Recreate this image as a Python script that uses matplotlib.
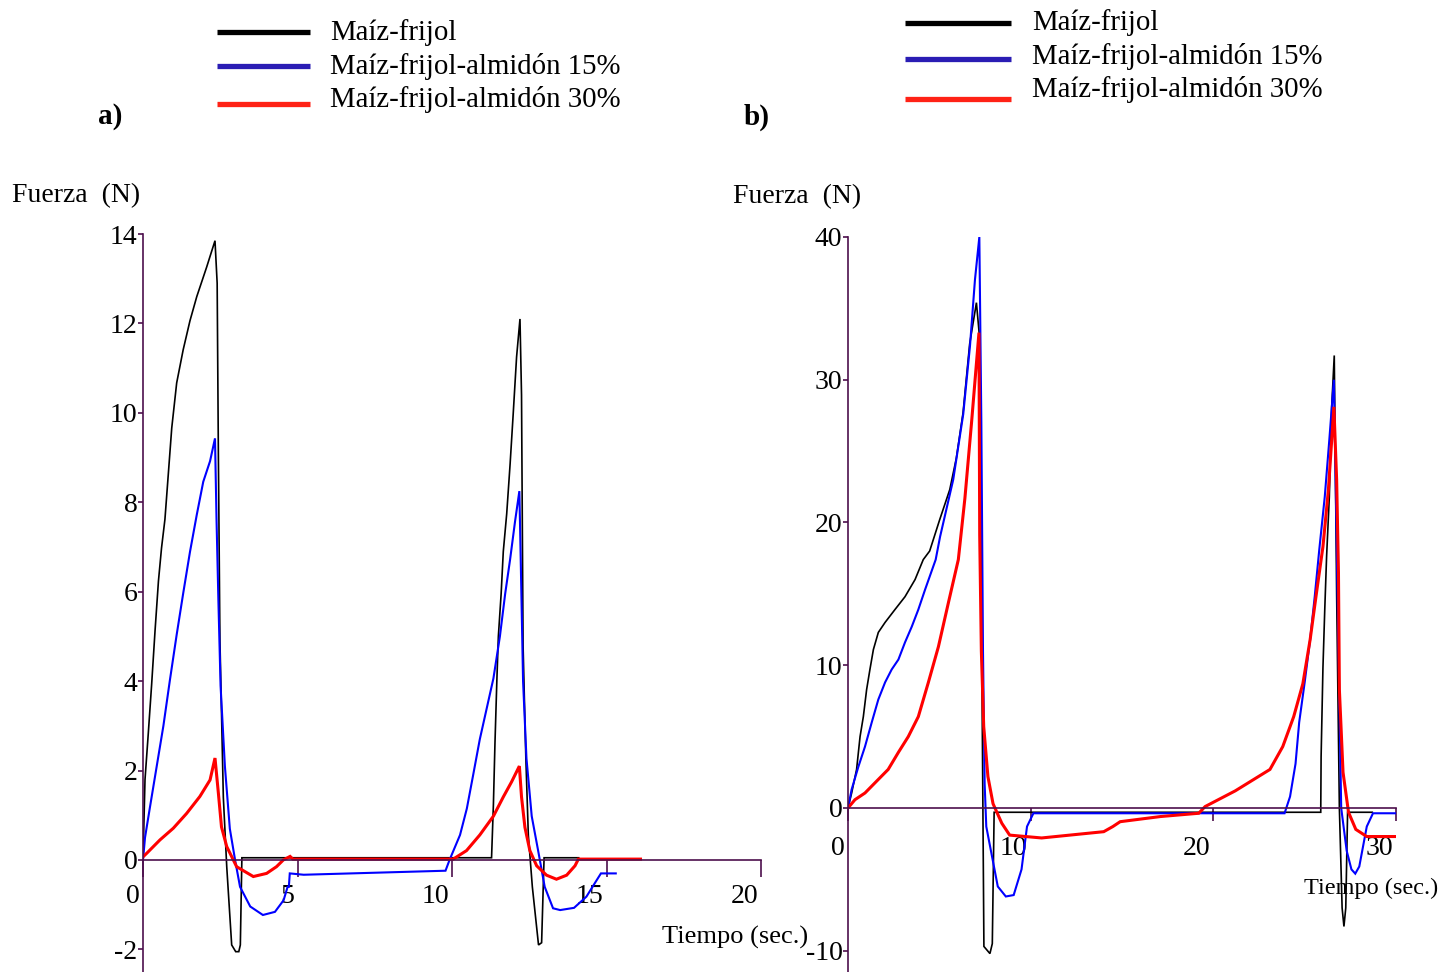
import matplotlib
matplotlib.use("Agg")
import matplotlib.pyplot as plt
from matplotlib.lines import Line2D
from matplotlib.transforms import ScaledTranslation

plt.rcParams["font.family"] = ["Liberation Serif", "DejaVu Serif"]
plt.rcParams["axes.unicode_minus"] = False

# ---- labels ---------------------------------------------------------------
SERIES = ["Maíz-frijol", "Maíz-frijol-almidón 15%", "Maíz-frijol-almidón 30%"]
LINE_COLORS = ["#000000", "#0000ff", "#ff0000"]
LEGEND_COLORS = ["#000000", "#2a1db4", "#ff2216"]

# ---- panel a: force (N) vs time (s) ---------------------------------------
a_black_t = [0, 0.065, 0.17, 0.28, 0.39, 0.5, 0.6, 0.71, 0.93, 1.09,
             1.3, 1.52, 1.74, 2.06, 2.33, 2.4, 2.44, 2.49, 2.6, 2.71,
             2.87, 3.0, 3.1, 3.15, 3.2, 3.3, 11.28, 11.34, 11.39, 11.45,
             11.5, 11.59, 11.66, 11.77, 11.88, 11.98, 12.09, 12.2, 12.25, 12.3,
             12.39, 12.47, 12.6, 12.8, 12.9, 12.98, 14.1]
a_black_f = [0, 1.8, 2.82, 3.93, 5.13, 6.24, 6.98, 7.62, 9.66, 10.67,
             11.41, 12.06, 12.6, 13.26, 13.85, 12.9, 9.0, 4.9, 1.4, -0.15,
             -1.9, -2.05, -2.05, -1.9, 0.05, 0.05, 0.05, 1.24, 2.6, 3.98,
             5.0, 5.95, 6.9, 7.74, 8.85, 9.97, 11.25, 12.1, 10.4, 4.8,
             2.27, 0.56, -0.6, -1.9, -1.85, 0.05, 0.05]

a_blue_t = [0, 0.065, 0.22, 0.44, 0.66, 0.87, 1.09, 1.3, 1.52, 1.74,
            1.95, 2.17, 2.33, 2.38, 2.44, 2.51, 2.65, 2.81, 2.98, 3.14,
            3.47, 3.88, 4.27, 4.55, 4.68, 4.72, 4.75, 5.2, 9.79, 9.92,
            10.26, 10.48, 10.69, 10.9, 11.12, 11.34, 11.55, 11.72, 11.88, 12.04,
            12.18, 12.23, 12.3, 12.41, 12.58, 12.79, 13.0, 13.27, 13.5, 13.95,
            14.35, 14.62, 14.82, 15.3]
a_blue_f = [0, 0.5, 1.16, 2.08, 3.0, 4.02, 5.04, 5.96, 6.89, 7.72,
            8.46, 8.92, 9.43, 7.6, 5.8, 3.9, 2.1, 0.7, 0.0, -0.6,
            -1.04, -1.23, -1.16, -0.9, -0.6, -0.6, -0.3, -0.33, -0.24, 0,
            0.56, 1.15, 1.92, 2.7, 3.38, 4.06, 5.0, 5.95, 6.72, 7.57,
            8.25, 6.5, 4.0, 2.27, 0.98, 0.2, -0.6, -1.08, -1.12, -1.07,
            -0.82, -0.52, -0.3, -0.3]

a_red_t = [0, 0.12, 0.55, 0.98, 1.41, 1.84, 2.17, 2.33, 2.44, 2.54,
           2.71, 3.03, 3.57, 4.0, 4.32, 4.54, 4.76, 4.85, 10.04, 10.47,
           10.9, 11.34, 11.66, 11.93, 12.18, 12.25, 12.36, 12.52, 12.74, 13.06,
           13.38, 13.71, 13.98, 14.09, 16.1]
a_red_f = [0.07, 0.15, 0.45, 0.71, 1.04, 1.42, 1.79, 2.28, 1.49, 0.74,
           0.3, -0.15, -0.37, -0.3, -0.15, 0, 0.08, 0.02, 0.02, 0.21,
           0.56, 0.98, 1.41, 1.75, 2.1, 1.41, 0.73, 0.21, -0.13, -0.34,
           -0.43, -0.34, -0.13, 0.02, 0.02]

# ---- panel b: force (N) vs time (s) ---------------------------------------
b_black_t = [0, 0.2, 0.47, 0.66, 0.84, 1.02, 1.2, 1.39, 1.66, 2.03,
             2.57, 3.12, 3.67, 4.12, 4.47, 5.02, 5.57, 5.93, 6.3, 6.66,
             7.03, 7.2, 7.3, 7.44, 7.77, 7.9, 8.0, 25.88, 25.9, 26.0,
             26.1, 26.2, 26.35, 26.48, 26.62, 26.75, 26.9, 27.05, 27.15, 27.25,
             27.35, 28.7]
b_black_f = [0, 1.05, 2.7, 5.0, 6.4, 8.3, 9.7, 11.1, 12.3, 13.0,
             13.9, 14.8, 16.0, 17.4, 18.0, 20.2, 22.3, 24.5, 27.7, 32.5,
             35.4, 33.0, 15.0, -9.7, -10.2, -9.5, -0.3, -0.3, 3.6, 9.8,
             13.9, 17.6, 21.8, 28.1, 31.7, 15.0, 0.0, -7.0, -8.3, -7.0,
             -0.3, -0.3]

b_blue_t = [0, 0.2, 0.57, 0.93, 1.3, 1.66, 2.03, 2.39, 2.76, 3.12,
            3.49, 3.85, 4.22, 4.8, 5.04, 5.76, 6.31, 6.68, 6.95, 7.19,
            7.3, 7.39, 7.48, 7.57, 8.2, 8.64, 9.07, 9.5, 9.8, 10.15,
            23.9, 24.2, 24.5, 24.7, 25.0, 25.3, 25.55, 25.8, 26.1, 26.35,
            26.6, 26.8, 27.0, 27.3, 27.56, 27.77, 27.99, 28.4, 28.74, 30.0]
b_blue_f = [0, 1.3, 2.9, 4.3, 6.0, 7.6, 8.8, 9.7, 10.4, 11.6,
            12.7, 13.9, 15.3, 17.4, 19.0, 23.0, 27.6, 32.4, 37.0, 40.0,
            27.0, 11.0, 1.7, -1.3, -5.5, -6.2, -6.1, -4.3, -1.3, -0.37,
            -0.37, 0.8, 3.1, 6.0, 8.8, 11.8, 14.8, 18.1, 21.8, 25.8,
            30.0, 15.0, 0.0, -3.0, -4.3, -4.6, -4.1, -1.3, -0.37, -0.37]

b_red_t = [0, 0.38, 0.93, 1.66, 2.2, 2.76, 3.3, 3.85, 4.4, 4.95,
           5.5, 6.04, 6.4, 6.77, 7.17, 7.21, 7.3, 7.43, 7.66, 7.94,
           8.42, 8.85, 10.6, 14.0, 14.5, 14.9, 17.1, 19.2, 19.55, 21.2,
           23.1, 23.8, 24.4, 24.9, 25.3, 25.65, 26.0, 26.3, 26.6, 26.75,
           26.85, 26.9, 27.1, 27.4, 27.8, 28.4, 30.0]
b_red_f = [0, 0.58, 1.05, 2.0, 2.7, 3.9, 5.0, 6.4, 8.8, 11.3,
           14.4, 17.4, 21.7, 27.1, 33.3, 19.1, 11.0, 5.7, 2.2, 0.3,
           -1.07, -1.9, -2.1, -1.66, -1.3, -0.96, -0.6, -0.37, 0.1, 1.2,
           2.7, 4.3, 6.4, 8.7, 11.8, 15.1, 18.3, 22.3, 28.1, 23.0,
           16.5, 8.3, 2.5, -0.3, -1.5, -2.0, -2.0]

a_curves = [(a_black_t, a_black_f), (a_blue_t, a_blue_f), (a_red_t, a_red_f)]
b_curves = [(b_black_t, b_black_f), (b_blue_t, b_blue_f), (b_red_t, b_red_f)]
LINE_WIDTHS = [1.2, 1.5, 2.2]

W, H = 1443, 972
AXIS_COLOR = "#4d0f4d"

fig = plt.figure(figsize=(W / 100, H / 100), dpi=100)


def px_axes(left, top, right, bottom):
    return fig.add_axes([left / W, 1 - bottom / H, (right - left) / W,
                         (bottom - top) / H])


def px_text(x, y, s, **kw):
    fig.text(x / W, 1 - y / H, s, **kw)


def style_axes(ax, xticks, yticks, xlen, xpad):
    ax.spines["top"].set_visible(False)
    ax.spines["right"].set_visible(False)
    ax.spines["bottom"].set_position(("data", 0))
    for side in ("left", "bottom"):
        ax.spines[side].set_color(AXIS_COLOR)
        ax.spines[side].set_linewidth(1.2)
    ax.set_xticks(xticks)
    ax.set_yticks(yticks)
    ax.tick_params(axis="x", direction="out", length=xlen, width=1.2,
                   color=AXIS_COLOR, pad=xpad, labelsize=20)
    ax.tick_params(axis="y", direction="out", length=3.5, width=1.2,
                   color=AXIS_COLOR, pad=0.5, labelsize=20)
    shift = ScaledTranslation(-3 / 100, 0, fig.dpi_scale_trans)
    for lab in ax.get_xticklabels():
        lab.set_horizontalalignment("right")
        lab.set_transform(lab.get_transform() + shift)
    ax.patch.set_alpha(0)


# panel a
ax_a = px_axes(143, 234, 761, 972)
for (t, f), c, lw in zip(a_curves, LINE_COLORS, LINE_WIDTHS):
    ax_a.plot(t, f, color=c, lw=lw, solid_joinstyle="miter")
ax_a.set_xlim(0, 20)
ax_a.set_ylim(-2.505, 14)
style_axes(ax_a, [0, 5, 10, 15, 20], list(range(-2, 15, 2)), 12, 5.5)

# panel b
ax_b = px_axes(848, 237, 1396, 972)
for (t, f), c, lw in zip(b_curves, LINE_COLORS, LINE_WIDTHS):
    ax_b.plot(t, f, color=c, lw=lw, solid_joinstyle="miter")
ax_b.set_xlim(0, 30)
ax_b.set_ylim(-11.49, 40)
style_axes(ax_b, [0, 10, 20, 30], [-10, 0, 10, 20, 30, 40], 9.5, 11)

# axis titles
px_text(12, 196, "Fuerza  (N)", fontsize=20, va="center", ha="left")
px_text(733, 197, "Fuerza  (N)", fontsize=20, va="center", ha="left")
px_text(662, 937, "Tiempo (sec.)", fontsize=19, va="center", ha="left")
px_text(1438, 888, "Tiempo (sec.)", fontsize=17.5, va="center", ha="right")

# panel tags
px_text(98, 117, "a)", fontsize=21, fontweight="bold", va="center")
px_text(744, 117, "b)", fontsize=21, fontweight="bold", va="center")

# legends drawn in figure pixels
legend_rows = [
    (217, 310, 330, [32, 66, 104], [40, 74, 107]),
    (905, 1011, 1032, [23, 59, 99], [30, 64, 97]),
]
for x0, x1, xt, ly, ty in legend_rows:
    for name, col, yl, yt in zip(SERIES, LEGEND_COLORS, ly, ty):
        fig.add_artist(Line2D([x0 / W, x1 / W], [1 - yl / H, 1 - yl / H],
                              color=col, lw=3.8, solid_capstyle="butt"))
        px_text(xt, yt, name, fontsize=20.8, va="baseline", ha="left")

fig.savefig("out.png", dpi=100)
